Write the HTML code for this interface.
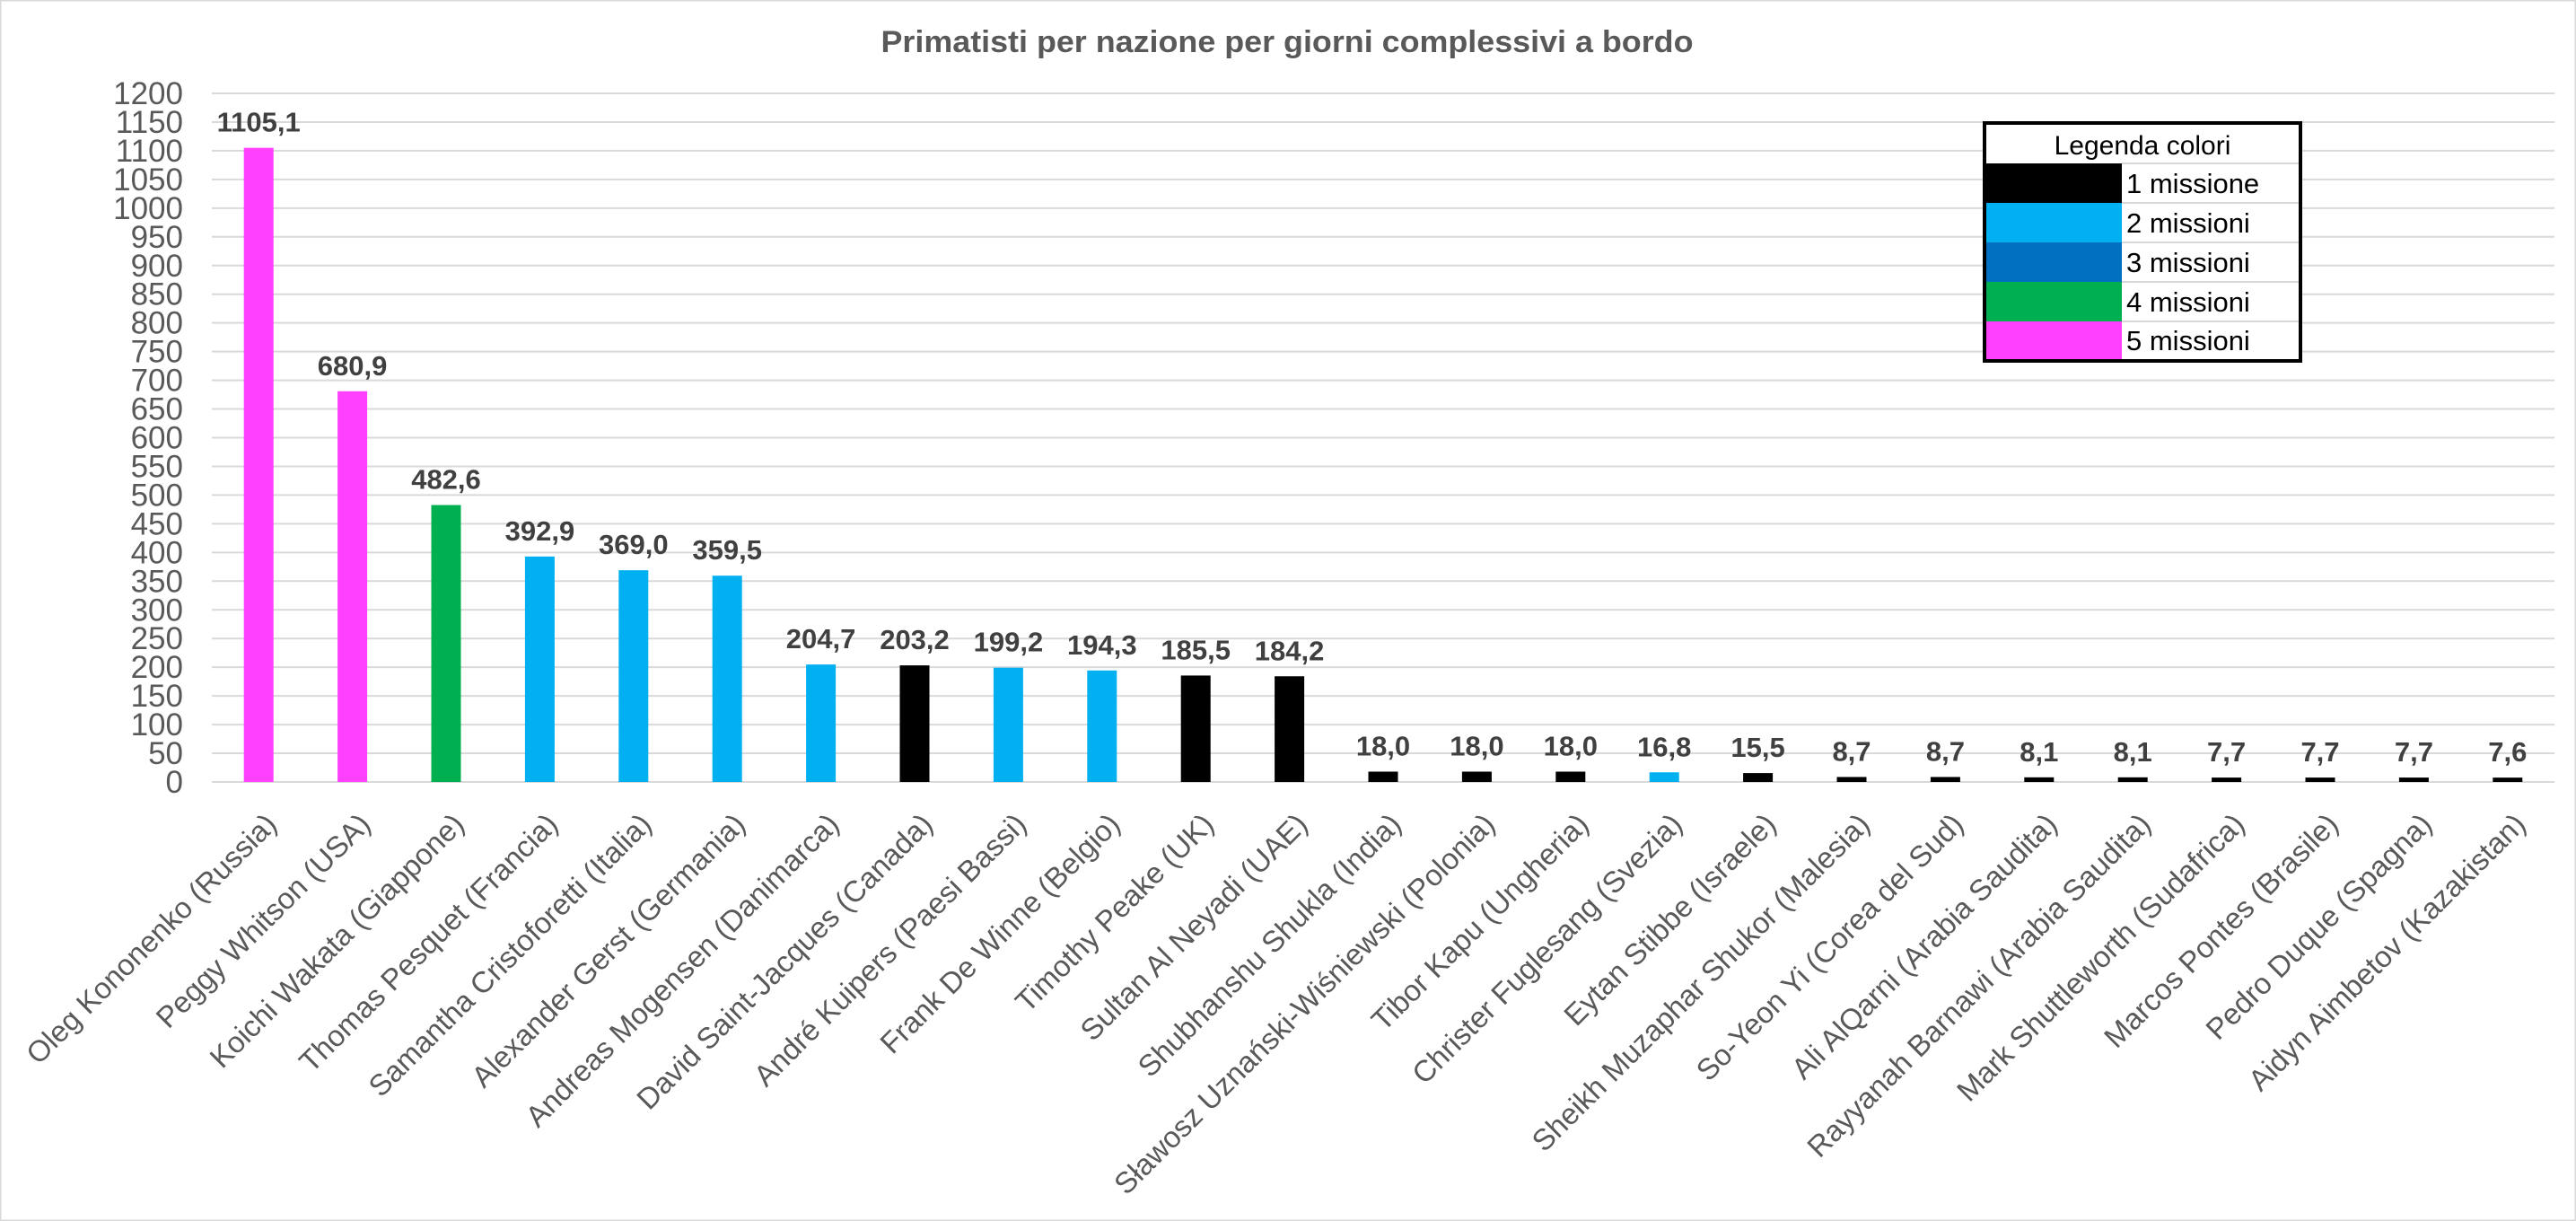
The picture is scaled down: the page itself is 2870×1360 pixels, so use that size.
<!DOCTYPE html>
<html><head><meta charset="utf-8"><style>
html,body{margin:0;padding:0;background:#fff;}
svg{display:block;}
</style></head><body>
<svg width="2870" height="1360" viewBox="0 0 2870 1360" xmlns="http://www.w3.org/2000/svg" font-family="Liberation Sans, sans-serif">
<rect x="0.5" y="0.5" width="2869" height="1359" fill="#fff" stroke="#d9d9d9" stroke-width="2"/>
<text x="1434" y="58" text-anchor="middle" font-size="34" font-weight="bold" fill="#595959" textLength="905" lengthAdjust="spacingAndGlyphs">Primatisti per nazione per giorni complessivi a bordo</text>
<g id="grid" stroke="#d9d9d9" stroke-width="2"></g>
<g id="yl" font-size="35" fill="#595959" text-anchor="end"></g>
<g id="bars"></g>
<g id="dl" font-size="31" font-weight="bold" fill="#404040" text-anchor="middle"></g>
<g id="xl" font-size="33" fill="#595959" text-anchor="end"></g>
<g>
<rect x="2211" y="137" width="352" height="265" fill="#fff" stroke="#000" stroke-width="4"/>
<text x="2387" y="172" text-anchor="middle" font-size="30" fill="#000">Legenda colori</text>
<rect x="2213" y="182" width="151" height="44" fill="#000"/>
<rect x="2213" y="226" width="151" height="44" fill="#00B0F0"/>
<rect x="2213" y="270" width="151" height="44" fill="#0070C0"/>
<rect x="2213" y="314" width="151" height="44" fill="#00B050"/>
<rect x="2213" y="358" width="151" height="42" fill="#FF40FF"/>
<g stroke="#d9d9d9" stroke-width="2"><line x1="2364" y1="182" x2="2561" y2="182"/><line x1="2364" y1="226" x2="2561" y2="226"/><line x1="2364" y1="270" x2="2561" y2="270"/><line x1="2364" y1="314" x2="2561" y2="314"/><line x1="2364" y1="358" x2="2561" y2="358"/></g>
<g font-size="31" fill="#000">
<text x="2369" y="215">1 missione</text>
<text x="2369" y="259">2 missioni</text>
<text x="2369" y="303">3 missioni</text>
<text x="2369" y="347">4 missioni</text>
<text x="2369" y="390">5 missioni</text>
</g>
</g>
</svg>
<script>
const NS="http://www.w3.org/2000/svg";
function el(p,t,a,txt){const e=document.createElementNS(NS,t);for(const k in a)e.setAttribute(k,a[k]);if(txt!==undefined)e.textContent=txt;document.getElementById(p).appendChild(e);return e;}
const y0=871,k=(871-104)/1200,L=236,R=2846,step=104.4,bw=33;
for(let v=0;v<=1200;v+=50){const y=y0-v*k;el('grid','line',{x1:L,y1:y,x2:R,y2:y});el('yl','text',{x:204,y:y+12},String(v));}
const M='#FF40FF',G='#00B050',C='#00B0F0',B='#000';
const d=[["Oleg Kononenko (Russia)",1105.1,M],["Peggy Whitson (USA)",680.9,M],["Koichi Wakata (Giappone)",482.6,G],["Thomas Pesquet (Francia)",392.9,C],["Samantha Cristoforetti (Italia)",369.0,C],["Alexander Gerst (Germania)",359.5,C],["Andreas Mogensen (Danimarca)",204.7,C],["David Saint-Jacques (Canada)",203.2,B],["André Kuipers (Paesi Bassi)",199.2,C],["Frank De Winne (Belgio)",194.3,C],["Timothy Peake (UK)",185.5,B],["Sultan Al Neyadi (UAE)",184.2,B],["Shubhanshu Shukla (India)",18.0,B],["Sławosz Uznański-Wiśniewski (Polonia)",18.0,B],["Tibor Kapu (Ungheria)",18.0,B],["Christer Fuglesang (Svezia)",16.8,C],["Eytan Stibbe (Israele)",15.5,B],["Sheikh Muzaphar Shukor (Malesia)",8.7,B],["So-Yeon Yi (Corea del Sud)",8.7,B],["Ali AlQarni (Arabia Saudita)",8.1,B],["Rayyanah Barnawi (Arabia Saudita)",8.1,B],["Mark Shuttleworth (Sudafrica)",7.7,B],["Marcos Pontes (Brasile)",7.7,B],["Pedro Duque (Spagna)",7.7,B],["Aidyn Aimbetov (Kazakistan)",7.6,B]];
d.forEach((r,i)=>{const cx=L+step*(i+0.5);const top=y0-r[1]*k;
el('bars','rect',{x:cx-bw/2,y:top,width:bw,height:y0-top,fill:r[2]});
el('dl','text',{x:cx,y:top-18},r[1].toFixed(1).replace('.',','));
const ax=cx+22,ay=920;el('xl','text',{x:ax,y:ay,transform:`rotate(-45 ${ax} ${ay})`},r[0]);});
</script>
</body></html>
